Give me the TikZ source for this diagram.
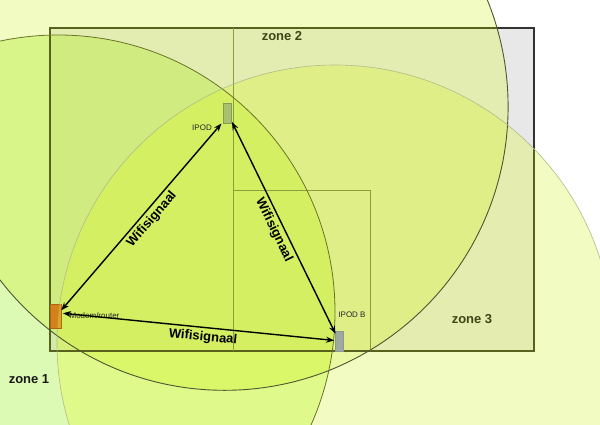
\documentclass[tikz,border=0pt]{standalone}
\usepackage{fontspec}
\setmainfont{Liberation Sans}
\usetikzlibrary{arrows.meta}
% region colours outside the house
\definecolor{oA}{HTML}{F2FCC2}
\definecolor{oB}{HTML}{DDFAB5}
\definecolor{oC}{HTML}{F2FCC2}
\definecolor{oAB}{HTML}{D8F58A}
\definecolor{oBC}{HTML}{DFF98A}
\definecolor{oAC}{HTML}{EAF8A4}
\definecolor{oABC}{HTML}{DAF76A}
% region colours inside the house
\definecolor{rN}{HTML}{E8E8E8}
\definecolor{rA}{HTML}{E3ECB1}
\definecolor{rB}{HTML}{D2EBAB}
\definecolor{rC}{HTML}{E4ECB0}
\definecolor{rAB}{HTML}{D0EC80}
\definecolor{rBC}{HTML}{D4EE78}
\definecolor{rAC}{HTML}{E0EE88}
\definecolor{rABC}{HTML}{D4EF62}
% lines
\definecolor{lineA}{HTML}{4F5530}
\definecolor{lineB}{HTML}{6A7428}
\definecolor{lineC}{HTML}{B0BC8A}
\definecolor{wallout}{HTML}{333333}
\definecolor{wallin}{HTML}{58621E}
\definecolor{inner}{HTML}{8E9E3C}
\definecolor{zonetxt}{HTML}{3E4616}
\definecolor{modemc}{HTML}{D4801C}
\definecolor{modemy}{HTML}{D4A82A}
\definecolor{ipodc}{HTML}{A8C070}
\definecolor{ipodb}{HTML}{9EAAA0}
\newcommand\cirA{(224.5,106.7) circle[radius=283.6pt]}
\newcommand\cirB{(58,312) circle[radius=277pt]}
\newcommand\cirC{(335,343) circle[radius=278pt]}
\newcommand\house{(50,28) rectangle (534,351)}
\newcommand\regions[8]{%
  \fill[#1] \cirA; \fill[#3] \cirC; \fill[#2] \cirB;
  \begin{scope}\clip \cirA; \fill[#4] \cirB; \end{scope}
  \begin{scope}\clip \cirB; \fill[#5] \cirC; \end{scope}
  \begin{scope}\clip \cirA; \fill[#6] \cirC; \end{scope}
  \begin{scope}\clip \cirA; \clip \cirB; \fill[#7] \cirC; \end{scope}}
\begin{document}
\begin{tikzpicture}[x=1pt,y=-1pt,
  dev/.style={draw, inner sep=0pt, line width=0.5pt},
  lbl/.style={font=\fontsize{8}{9}\selectfont, inner sep=0pt, text=black!85},
  zonelbl/.style={font=\fontsize{13}{15}\selectfont\bfseries, inner sep=0pt},
  sig/.style={line width=1.4pt, {Stealth[length=8pt,width=6pt]}-{Stealth[length=8pt,width=6pt]}},
  siglbl/.style={font=\fontsize{13}{15}\selectfont\bfseries, sloped, below, inner sep=3pt}]
\useasboundingbox (0,0) rectangle (600,424);
\fill[white] (0,0) rectangle (600,424);
% coverage outside the house
\regions{oA}{oB}{oC}{oAB}{oBC}{oAC}{oABC}{}
% coverage inside the house
\begin{scope}
  \clip \house;
  \fill[rN] \house;
  \regions{rA}{rB}{rC}{rAB}{rBC}{rAC}{rABC}{}
\end{scope}
% walls
\draw[wallout, line width=1.3pt] \house;
\begin{scope}\clip \cirA; \draw[wallin, line width=1.3pt] \house; \end{scope}
\begin{scope}\clip \cirB; \draw[wallin, line width=1.3pt] \house; \end{scope}
\begin{scope}\clip \cirC; \draw[wallin, line width=1.3pt] \house; \end{scope}
\draw[inner, line width=0.8pt] (233,28) -- (233,351);
\draw[inner, line width=0.8pt] (233,190) -- (370,190) -- (370,351);
% circle outlines
\draw[lineA, line width=0.9pt] \cirA;
\draw[lineB, line width=0.8pt] \cirB;
\draw[lineC, line width=0.6pt] \cirC;
% devices
\node[dev, draw=modemc!80!black, fill=modemc, minimum width=11pt, minimum height=24pt] (modem) at (55.5,316.3) {};
\begin{scope}\clip \cirC; \fill[modemy] (50,304.3) rectangle (61,328.3); \end{scope}
\node[dev, draw=ipodc!80!black, fill=ipodc, minimum width=8.4pt, minimum height=20pt] (ipod) at (227.5,113.3) {};
\node[dev, draw=ipodb!90!black, fill=ipodb, minimum width=8.3pt, minimum height=20pt] (ipodB) at (339.2,341) {};
% labels
\node[lbl] (lipod) at (202,128) {IPOD};
\node[lbl] (lmodem) at (94.5,315.5) {Modem/router};
\node[lbl] (lipodb) at (352,314.5) {IPOD B};
\node[zonelbl, text=zonetxt] (z2) at (282,36) {zone 2};
\node[zonelbl, text=zonetxt] (z3) at (472,319) {zone 3};
\node[zonelbl, text=black!90] (z1) at (29,379) {zone 1};
% signals
\draw[sig] ([yshift=6pt]modem.east) -- node[siglbl, pos=0.52] (w1) {Wifisignaal} ([xshift=-1.6pt]ipod.south west);
\draw[sig] ([yshift=1.6pt]ipod.south east) -- node[siglbl, pos=0.49] (w2) {Wifisignaal} ([yshift=-3pt,xshift=0.7pt]ipodB.north west);
\draw[sig] ([yshift=3pt,xshift=1.7pt]modem.east) -- node[siglbl, pos=0.52] (w3) {Wifisignaal} ([yshift=-9.7pt,xshift=-0.7pt]ipodB.north west);
\end{tikzpicture}
\end{document}
